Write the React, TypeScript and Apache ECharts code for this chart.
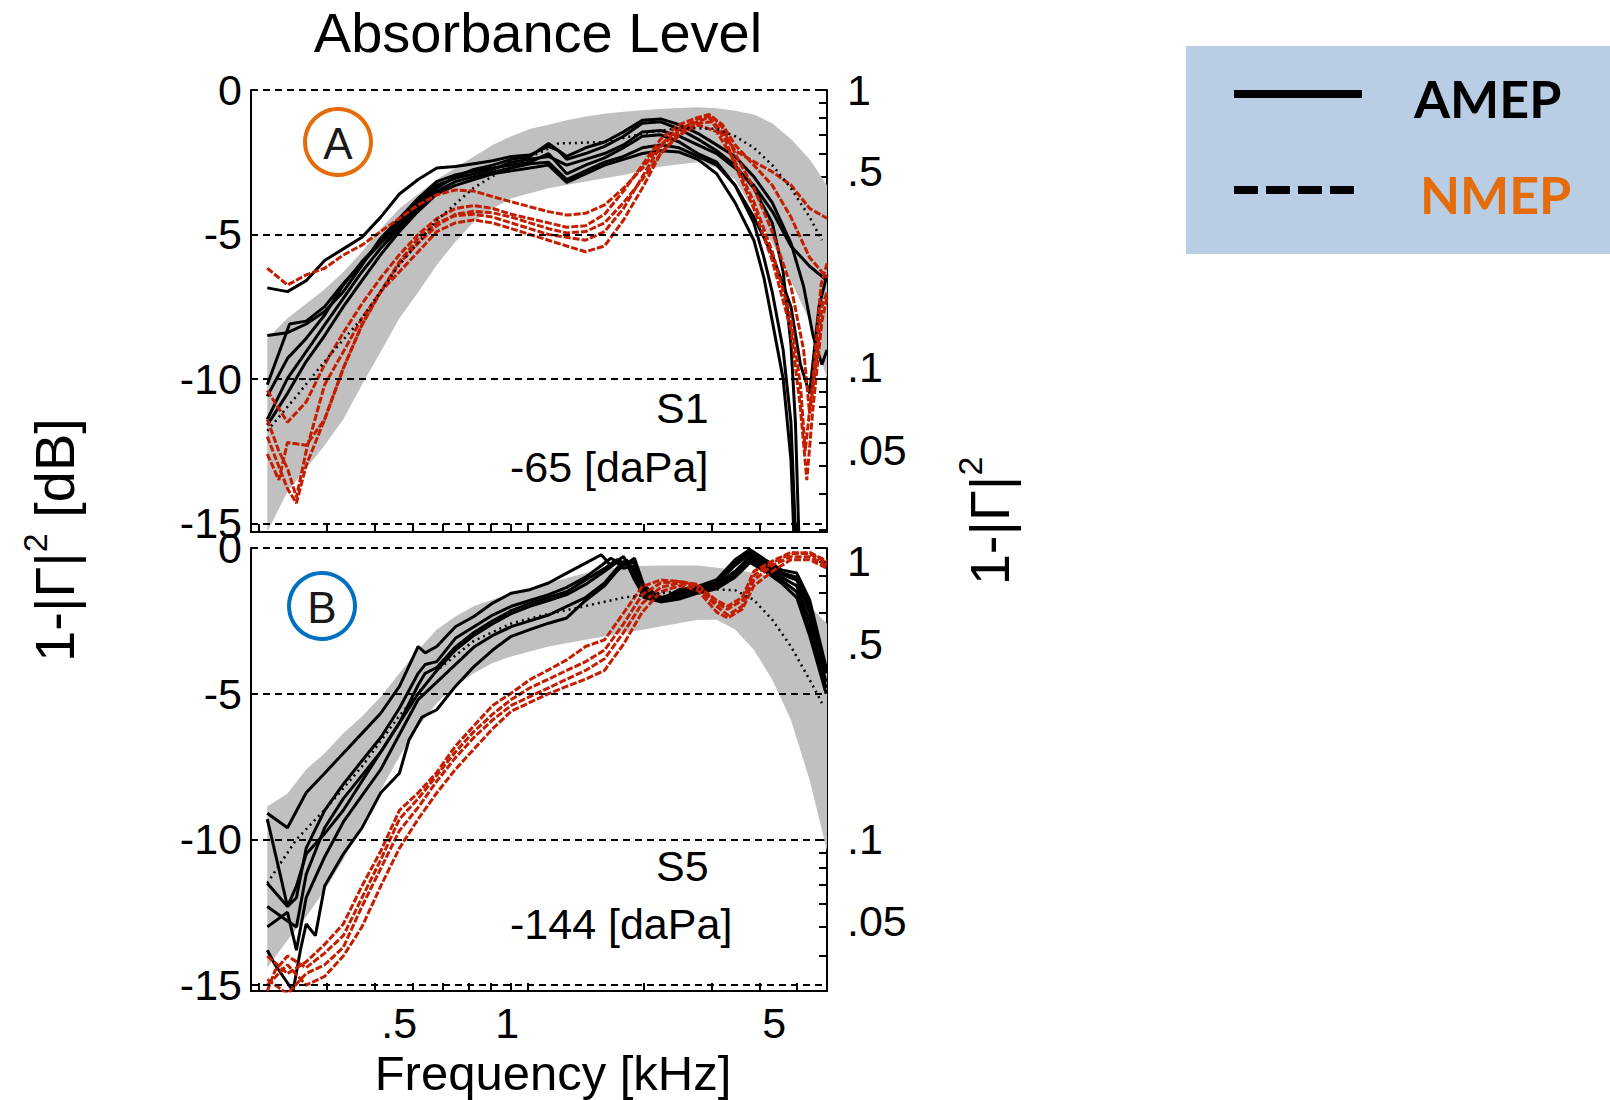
import React, { useEffect, useRef } from 'react';
import * as echarts from 'echarts';

const FONT = '"Liberation Sans", Arial, Helvetica, sans-serif';
const LEGEND_FONT = 'Lato, "Open Sans", sans-serif';

// ---------- axes ----------
const X_MIN_KHZ = 0.1905;
const X_MAX_KHZ = 5.98;
const Y_MIN_DB_A = -15.3;
const Y_MIN_DB_B = -15.2;
const X_TICK_KHZ = [0.2, 0.3, 0.4, 0.5, 0.6, 0.7, 0.8, 0.9, 1, 2, 3, 4, 5];
const X_LABEL_KHZ = [0.5, 1, 5];
const X_LABEL_TEXT = ['.5', '1', '5'];
const Y_LABEL_DB = [0, -5, -10, -15];
const GRID_DB = [0, -5, -10, -15];
const ABS_TICKS = [1, 0.9, 0.8, 0.7, 0.6, 0.5, 0.4, 0.3, 0.2, 0.1, 0.09, 0.08, 0.07, 0.06, 0.05, 0.04, 0.03];
const ABS_LABELS = [1, 0.5, 0.1, 0.05];
const ABS_LABEL_TEXT = ['1', '.5', '.1', '.05'];

// label nudges as in the original figure (pixels; style only)
const X_LABEL_SHIFT = [-13, -21, -23];
const RIGHT_LABEL_SHIFT = [[0, -6, -12, -16], [13, 8, 0, -6]];

type Pt = [number, number]; // [kHz, dB]

// ---------- Panel A (S1, -65 daPa) ----------
const A_BAND_HI: Pt[] = [[0.21,-8.6],[0.237,-7.9],[0.265,-7.4],[0.296,-6.9],[0.331,-6.3],[0.37,-5.6],[0.414,-4.8],[0.463,-4.1],[0.518,-3.6],[0.579,-3.1],[0.647,-2.7],[0.723,-2.3],[0.809,-1.9],[0.904,-1.6],[1.01,-1.35],[1.13,-1.2],[1.26,-1.05],[1.41,-0.92],[1.58,-0.82],[1.77,-0.75],[1.98,-0.7],[2.21,-0.66],[2.47,-0.62],[2.76,-0.6],[3.09,-0.63],[3.45,-0.72],[3.86,-0.85],[4.31,-1.15],[4.82,-1.7],[5.39,-2.4],[5.98,-3.3]];
const A_BAND_LO: Pt[] = [[0.21,-15.3],[0.237,-13.9],[0.265,-13.1],[0.296,-12.3],[0.331,-11.4],[0.37,-10.2],[0.414,-9.06],[0.463,-7.9],[0.518,-7.0],[0.579,-6.06],[0.647,-5.25],[0.723,-4.56],[0.809,-4.1],[0.904,-3.75],[1.13,-3.4],[1.41,-3.17],[1.77,-2.94],[2.21,-2.65],[2.76,-2.5],[3.09,-2.7],[3.45,-3.1],[3.86,-4.2],[4.31,-5.3],[4.82,-6.6],[5.39,-8.0],[5.98,-10.0]];
const A_MEAN: Pt[] = [[0.21,-11.8],[0.25,-10.6],[0.3,-9.3],[0.37,-7.9],[0.46,-6.1],[0.58,-4.5],[0.72,-3.4],[0.9,-2.6],[1.1,-2.1],[1.2,-1.85],[1.6,-1.8],[2.0,-1.5],[2.5,-1.3],[3.09,-1.35],[3.45,-1.6],[3.86,-2.0],[4.31,-2.6],[4.82,-3.4],[5.39,-4.4],[5.8,-5.2]];

const A_AMEP_1: Pt[] = [[0.21,-6.85],[0.237,-6.98],[0.265,-6.6],[0.296,-5.9],[0.331,-5.5],[0.37,-5.1],[0.414,-4.4],[0.463,-3.6],[0.518,-3.1],[0.579,-2.7],[0.647,-2.65],[0.723,-2.55],[0.809,-2.45],[0.904,-2.3],[1.01,-2.25],[1.13,-1.95],[1.2,-2.1],[1.26,-2.4],[1.41,-2.2],[1.58,-1.95],[1.77,-1.6],[1.98,-1.15],[2.21,-1.1],[2.47,-1.35],[2.76,-1.7],[3.09,-2.1],[3.45,-2.6],[3.86,-3.4],[4.31,-4.6],[4.6,-6.3],[4.82,-8.8],[4.95,-11.5],[5.05,-15.3]];
const A_AMEP_2: Pt[] = [[0.21,-8.5],[0.237,-8.4],[0.265,-8.1],[0.296,-7.67],[0.331,-6.98],[0.37,-6.06],[0.414,-5.13],[0.463,-4.44],[0.518,-3.75],[0.579,-3.17],[0.647,-2.94],[0.723,-2.8],[0.809,-2.7],[0.904,-2.6],[1.01,-2.5],[1.13,-2.2],[1.26,-2.9],[1.41,-2.6],[1.58,-2.35],[1.77,-2.0],[1.98,-1.6],[2.21,-1.55],[2.47,-1.8],[2.76,-2.2],[3.09,-2.5],[3.45,-3.3],[3.86,-4.6],[4.1,-5.8],[4.31,-7.0],[4.6,-9.0],[4.82,-11.5],[4.95,-15.3]];
const A_AMEP_3: Pt[] = [[0.21,-10.6],[0.237,-9.29],[0.265,-8.6],[0.296,-7.79],[0.331,-6.75],[0.37,-5.94],[0.414,-5.25],[0.463,-4.56],[0.518,-3.87],[0.579,-3.29],[0.647,-3.06],[0.723,-2.9],[0.809,-2.75],[0.904,-2.5],[1.01,-2.4],[1.13,-2.3],[1.26,-2.6],[1.41,-2.4],[1.58,-2.2],[1.77,-1.9],[1.98,-1.45],[2.21,-1.4],[2.47,-1.6],[2.76,-1.9],[3.09,-2.2],[3.45,-2.7],[3.86,-3.3],[4.31,-4.2],[4.82,-5.4],[5.39,-6.1],[5.98,-6.6]];
const A_AMEP_4: Pt[] = [[0.21,-11.4],[0.237,-9.98],[0.265,-9.06],[0.296,-8.13],[0.331,-7.21],[0.37,-6.29],[0.414,-5.48],[0.463,-4.79],[0.518,-4.1],[0.579,-3.52],[0.647,-3.17],[0.723,-3.0],[0.809,-2.85],[0.904,-2.7],[1.01,-2.55],[1.13,-2.5],[1.26,-3.1],[1.41,-2.8],[1.58,-2.5],[1.77,-2.3],[1.98,-2.0],[2.21,-1.9],[2.47,-2.0],[2.76,-2.3],[3.09,-2.6],[3.45,-3.3],[3.86,-4.4],[4.31,-5.7],[4.82,-7.5],[5.1,-9.5],[5.39,-10.5],[5.7,-7.5],[5.98,-6.4]];
const A_AMEP_5: Pt[] = [[0.21,-10.2],[0.24,-8.1],[0.265,-8.0],[0.296,-7.5],[0.331,-6.7],[0.37,-6.0],[0.414,-5.3],[0.463,-4.7],[0.518,-4.0],[0.579,-3.4],[0.647,-3.0],[0.723,-2.75],[0.809,-2.6],[0.904,-2.4],[1.01,-2.3],[1.13,-1.85],[1.26,-2.3],[1.41,-2.0],[1.58,-1.8],[1.77,-1.45],[1.98,-1.05],[2.21,-1.0],[2.47,-1.2],[2.76,-1.5],[3.09,-1.9],[3.45,-2.3],[3.86,-3.0],[4.31,-3.9],[4.82,-5.3],[5.2,-6.8],[5.5,-8.5],[5.8,-9.5],[5.98,-9.0]];
const A_AMEP_6: Pt[] = [[0.21,-11.6],[0.237,-10.5],[0.265,-9.4],[0.296,-8.5],[0.331,-7.5],[0.37,-6.6],[0.414,-5.7],[0.463,-4.9],[0.518,-4.2],[0.579,-3.6],[0.647,-3.3],[0.723,-3.1],[0.809,-2.9],[0.904,-2.8],[1.01,-2.7],[1.13,-2.6],[1.26,-3.2],[1.41,-2.9],[1.58,-2.6],[1.77,-2.4],[1.98,-2.2],[2.21,-2.1],[2.47,-2.15],[2.76,-2.4],[3.09,-2.9],[3.45,-3.9],[3.86,-5.2],[4.1,-6.5],[4.31,-8.0],[4.6,-10.0],[4.82,-12.8],[4.9,-15.3]];

const A_NMEP_1: Pt[] = [[0.21,-6.17],[0.237,-6.75],[0.265,-6.4],[0.296,-6.17],[0.331,-5.71],[0.37,-5.37],[0.414,-4.9],[0.463,-4.44],[0.518,-3.98],[0.579,-3.63],[0.647,-3.46],[0.723,-3.5],[0.809,-3.69],[0.904,-3.87],[1.01,-4.04],[1.13,-4.21],[1.26,-4.33],[1.41,-4.27],[1.58,-3.98],[1.77,-3.4],[1.98,-2.71],[2.21,-1.9],[2.47,-1.33],[2.76,-1.1],[2.95,-0.95],[3.25,-1.56],[3.45,-2.1],[3.86,-2.48],[4.31,-2.83],[4.82,-3.29],[5.39,-4.1],[5.98,-4.44]];
const A_NMEP_2: Pt[] = [[0.21,-11.4],[0.225,-12.5],[0.237,-13.1],[0.25,-14.1],[0.265,-12.5],[0.296,-10.2],[0.331,-9.06],[0.37,-7.9],[0.414,-6.98],[0.463,-6.29],[0.518,-5.6],[0.579,-4.9],[0.647,-4.6],[0.723,-4.5],[0.809,-4.6],[0.904,-4.8],[1.01,-5.0],[1.13,-5.2],[1.26,-5.4],[1.41,-5.6],[1.58,-5.4],[1.77,-4.5],[1.98,-3.4],[2.21,-2.2],[2.47,-1.56],[2.76,-1.21],[3.09,-1.44],[3.45,-2.48],[3.86,-3.87],[4.31,-5.6],[4.82,-7.9],[5.1,-10.2],[5.25,-12.5],[5.5,-10.0],[5.77,-6.75],[5.98,-6.0]];
const A_NMEP_3: Pt[] = [[0.21,-12.0],[0.237,-13.8],[0.25,-14.3],[0.265,-13.0],[0.296,-11.4],[0.331,-9.63],[0.37,-8.13],[0.414,-6.98],[0.463,-5.94],[0.518,-5.13],[0.579,-4.6],[0.647,-4.35],[0.723,-4.3],[0.809,-4.4],[0.904,-4.6],[1.01,-4.8],[1.13,-5.0],[1.26,-5.1],[1.41,-5.2],[1.58,-4.9],[1.77,-4.1],[1.98,-3.0],[2.21,-1.95],[2.47,-1.4],[2.76,-1.0],[3.0,-0.9],[3.2,-1.3],[3.45,-2.2],[3.86,-3.4],[4.31,-4.9],[4.82,-6.8],[5.2,-9.0],[5.39,-11.2],[5.6,-9.5],[5.8,-7.5],[5.98,-7.0]];
const A_NMEP_4: Pt[] = [[0.21,-12.6],[0.225,-13.5],[0.237,-12.2],[0.265,-12.3],[0.296,-11.4],[0.331,-9.63],[0.37,-8.13],[0.414,-6.98],[0.463,-6.0],[0.518,-5.3],[0.579,-4.7],[0.647,-4.3],[0.723,-4.2],[0.809,-4.25],[0.904,-4.4],[1.01,-4.6],[1.13,-4.8],[1.26,-4.95],[1.41,-4.9],[1.58,-4.6],[1.77,-3.9],[1.98,-3.1],[2.21,-2.2],[2.47,-1.5],[2.76,-1.15],[3.0,-1.1],[3.25,-1.7],[3.45,-2.6],[3.86,-4.1],[4.31,-5.9],[4.82,-8.3],[5.1,-11.0],[5.3,-13.5],[5.5,-11.0],[5.8,-8.0],[5.98,-7.2]];
const A_NMEP_5: Pt[] = [[0.21,-10.4],[0.237,-11.5],[0.265,-10.8],[0.296,-9.5],[0.331,-8.4],[0.37,-7.4],[0.414,-6.5],[0.463,-5.7],[0.518,-5.0],[0.579,-4.45],[0.647,-4.1],[0.723,-4.0],[0.809,-4.1],[0.904,-4.3],[1.01,-4.45],[1.13,-4.6],[1.26,-4.75],[1.41,-4.7],[1.58,-4.3],[1.77,-3.5],[1.98,-2.6],[2.21,-1.7],[2.47,-1.2],[2.76,-0.95],[2.95,-0.85],[3.2,-1.2],[3.45,-1.9],[3.86,-2.6],[4.31,-3.3],[4.82,-4.4],[5.39,-5.8],[5.98,-6.5]];

// ---------- Panel B (S5, -144 daPa) ----------
const B_BAND_HI: Pt[] = [[0.21,-8.87],[0.237,-8.42],[0.265,-7.6],[0.296,-7.04],[0.331,-6.36],[0.37,-5.78],[0.414,-5.1],[0.463,-4.3],[0.518,-3.5],[0.579,-2.8],[0.647,-2.35],[0.723,-2.0],[0.904,-1.55],[1.13,-1.2],[1.41,-0.86],[1.77,-0.63],[2.21,-0.6],[2.76,-0.6],[3.45,-0.75],[4.31,-0.97],[4.82,-1.32],[5.39,-2.0],[5.98,-2.6]];
const B_BAND_LO: Pt[] = [[0.21,-14.4],[0.237,-13.46],[0.265,-12.65],[0.296,-11.74],[0.331,-10.7],[0.37,-9.45],[0.414,-8.3],[0.463,-7.16],[0.518,-6.13],[0.579,-5.32],[0.647,-4.75],[0.723,-4.3],[0.809,-3.95],[0.904,-3.72],[1.13,-3.38],[1.41,-3.15],[1.77,-2.92],[2.21,-2.69],[2.76,-2.46],[3.09,-2.46],[3.45,-2.8],[3.86,-3.49],[4.31,-4.52],[4.82,-5.9],[5.39,-7.96],[5.98,-10.4]];
const B_MEAN: Pt[] = [[0.21,-11.5],[0.25,-10.0],[0.3,-8.9],[0.37,-7.5],[0.46,-5.8],[0.58,-4.2],[0.72,-3.2],[0.9,-2.6],[1.1,-2.3],[1.4,-2.0],[1.77,-1.7],[2.21,-1.55],[2.76,-1.4],[3.45,-1.45],[3.86,-1.78],[4.31,-2.46],[4.82,-3.38],[5.39,-4.52],[5.8,-5.32]];

const B_AMEP_1: Pt[] = [[0.21,-9.1],[0.237,-9.6],[0.265,-8.4],[0.296,-7.73],[0.331,-7.04],[0.37,-6.36],[0.414,-5.67],[0.463,-4.75],[0.518,-3.38],[0.54,-3.6],[0.579,-3.38],[0.647,-2.7],[0.723,-2.35],[0.809,-1.89],[0.904,-1.55],[1.01,-1.43],[1.13,-1.2],[1.26,-0.86],[1.41,-0.52],[1.55,-0.23],[1.64,-0.6],[1.77,-0.29],[1.89,-1.09],[2.0,-1.66],[2.21,-1.78],[2.47,-1.43],[2.76,-1.32],[3.09,-1.09],[3.45,-0.4],[3.77,-0.05],[4.13,-0.4],[4.55,-0.75],[4.99,-0.86],[5.39,-1.78],[5.95,-4.1]];
const B_AMEP_2: Pt[] = [[0.21,-11.5],[0.237,-12.3],[0.25,-12.0],[0.265,-10.3],[0.296,-9.0],[0.331,-8.1],[0.37,-7.3],[0.414,-6.5],[0.463,-5.5],[0.518,-4.3],[0.54,-4.0],[0.579,-3.9],[0.647,-3.1],[0.723,-2.7],[0.809,-2.3],[0.904,-2.0],[1.01,-1.8],[1.13,-1.6],[1.26,-1.35],[1.41,-1.0],[1.55,-0.6],[1.64,-0.35],[1.77,-0.6],[1.89,-0.35],[2.0,-1.3],[2.21,-1.7],[2.47,-1.55],[2.76,-1.4],[3.09,-1.2],[3.45,-0.6],[3.77,-0.2],[4.13,-0.5],[4.55,-0.9],[4.99,-1.1],[5.39,-2.2],[5.95,-4.3]];
const B_AMEP_3: Pt[] = [[0.21,-12.3],[0.237,-12.8],[0.25,-13.0],[0.265,-11.2],[0.296,-9.6],[0.331,-8.6],[0.37,-7.8],[0.414,-7.0],[0.463,-6.0],[0.518,-5.0],[0.579,-4.2],[0.647,-3.5],[0.723,-3.0],[0.809,-2.6],[0.904,-2.25],[1.01,-2.0],[1.13,-1.8],[1.26,-1.6],[1.41,-1.25],[1.58,-0.8],[1.7,-0.5],[1.77,-0.7],[1.89,-0.6],[2.0,-1.5],[2.21,-1.8],[2.47,-1.6],[2.76,-1.45],[3.09,-1.25],[3.45,-0.8],[3.77,-0.3],[4.13,-0.6],[4.55,-1.0],[4.99,-1.3],[5.39,-2.5],[5.95,-4.6]];
const B_AMEP_4: Pt[] = [[0.21,-13.0],[0.237,-12.5],[0.25,-13.8],[0.265,-12.0],[0.296,-10.6],[0.331,-9.4],[0.37,-8.5],[0.414,-7.6],[0.463,-6.4],[0.518,-5.2],[0.579,-4.6],[0.647,-4.0],[0.723,-3.4],[0.809,-3.0],[0.904,-2.7],[1.01,-2.5],[1.13,-2.3],[1.26,-2.0],[1.41,-1.7],[1.58,-1.2],[1.7,-0.7],[1.8,-0.4],[1.89,-0.8],[2.0,-1.6],[2.21,-1.75],[2.47,-1.7],[2.76,-1.5],[3.09,-1.3],[3.45,-0.9],[3.77,-0.4],[4.13,-0.7],[4.55,-1.1],[4.99,-1.5],[5.39,-2.8],[5.95,-4.8]];
const B_AMEP_5: Pt[] = [[0.21,-13.8],[0.22,-14.3],[0.245,-15.2],[0.256,-13.8],[0.265,-12.9],[0.28,-13.3],[0.296,-11.6],[0.331,-10.5],[0.37,-9.6],[0.414,-8.4],[0.463,-7.73],[0.49,-6.6],[0.53,-5.8],[0.579,-5.55],[0.647,-4.75],[0.723,-4.07],[0.809,-3.5],[0.904,-3.03],[1.01,-2.8],[1.13,-2.58],[1.26,-2.4],[1.41,-1.8],[1.58,-1.3],[1.7,-0.8],[1.8,-0.5],[1.89,-1.0],[2.0,-1.7],[2.21,-1.85],[2.47,-1.75],[2.76,-1.55],[3.09,-1.4],[3.45,-1.0],[3.77,-0.5],[4.13,-0.8],[4.55,-1.2],[4.99,-1.7],[5.39,-3.0],[5.95,-5.0]];
const B_AMEP_6: Pt[] = [[0.21,-9.3],[0.225,-11.0],[0.237,-12.3],[0.25,-11.6],[0.265,-10.5],[0.296,-9.8],[0.331,-9.0],[0.37,-8.0],[0.414,-7.0],[0.463,-6.0],[0.518,-4.7],[0.54,-4.3],[0.579,-4.1],[0.647,-3.4],[0.723,-2.9],[0.809,-2.5],[0.904,-2.15],[1.01,-1.9],[1.13,-1.7],[1.26,-1.5],[1.41,-1.1],[1.58,-0.7],[1.7,-0.4],[1.77,-0.5],[1.89,-0.5],[2.0,-1.4],[2.21,-1.75],[2.47,-1.5],[2.76,-1.35],[3.09,-1.15],[3.45,-0.5],[3.77,-0.1],[4.13,-0.45],[4.55,-0.85],[4.99,-1.0],[5.39,-2.0],[5.95,-4.2]];

const B_NMEP_1: Pt[] = [[0.21,-14.0],[0.237,-14.6],[0.265,-14.2],[0.296,-13.6],[0.331,-12.9],[0.37,-11.6],[0.414,-10.4],[0.463,-9.0],[0.518,-8.4],[0.579,-7.7],[0.647,-6.8],[0.723,-6.1],[0.809,-5.4],[0.904,-4.98],[1.01,-4.52],[1.13,-4.18],[1.26,-3.84],[1.41,-3.38],[1.58,-3.15],[1.77,-2.23],[1.98,-1.32],[2.21,-1.1],[2.47,-1.15],[2.76,-1.3],[3.09,-1.8],[3.3,-2.0],[3.6,-1.7],[3.86,-0.8],[4.31,-0.45],[4.82,-0.15],[5.39,-0.2],[5.98,-0.5]];
const B_NMEP_2: Pt[] = [[0.21,-14.8],[0.237,-15.3],[0.265,-14.6],[0.296,-14.3],[0.331,-13.7],[0.37,-12.3],[0.414,-11.0],[0.463,-9.7],[0.518,-8.9],[0.579,-8.0],[0.647,-7.2],[0.723,-6.5],[0.809,-5.9],[0.904,-5.4],[1.01,-5.1],[1.13,-4.8],[1.26,-4.5],[1.41,-4.2],[1.58,-3.8],[1.77,-2.9],[1.98,-1.9],[2.21,-1.35],[2.47,-1.2],[2.76,-1.35],[3.09,-2.0],[3.3,-2.3],[3.6,-2.0],[3.86,-1.1],[4.31,-0.6],[4.82,-0.3],[5.39,-0.3],[5.98,-0.6]];
const B_NMEP_3: Pt[] = [[0.21,-15.0],[0.237,-14.3],[0.265,-15.0],[0.296,-14.7],[0.331,-14.0],[0.37,-13.0],[0.414,-11.6],[0.463,-10.3],[0.518,-9.3],[0.579,-8.4],[0.647,-7.6],[0.723,-6.9],[0.809,-6.2],[0.904,-5.6],[1.01,-5.3],[1.13,-5.0],[1.26,-4.75],[1.41,-4.5],[1.58,-4.2],[1.77,-3.3],[1.98,-2.2],[2.21,-1.5],[2.47,-1.3],[2.76,-1.45],[3.09,-2.2],[3.3,-2.4],[3.6,-2.1],[3.86,-1.3],[4.31,-0.8],[4.82,-0.4],[5.39,-0.4],[5.98,-0.7]];
const B_NMEP_4: Pt[] = [[0.21,-15.2],[0.22,-14.5],[0.237,-14.0],[0.265,-14.4],[0.296,-13.9],[0.331,-13.3],[0.37,-12.0],[0.414,-10.7],[0.463,-9.3],[0.518,-8.6],[0.579,-7.8],[0.647,-7.0],[0.723,-6.3],[0.809,-5.7],[0.904,-5.2],[1.01,-4.8],[1.13,-4.5],[1.26,-4.2],[1.41,-3.9],[1.58,-3.5],[1.77,-2.6],[1.98,-1.6],[2.21,-1.2],[2.47,-1.15],[2.76,-1.25],[3.09,-1.9],[3.3,-2.1],[3.6,-1.8],[3.86,-0.95],[4.31,-0.5],[4.82,-0.2],[5.39,-0.15],[5.98,-0.45]];

const A_AMEP = [A_AMEP_1, A_AMEP_2, A_AMEP_3, A_AMEP_4, A_AMEP_5, A_AMEP_6];
const A_NMEP = [A_NMEP_1, A_NMEP_2, A_NMEP_3, A_NMEP_4, A_NMEP_5];
const B_AMEP = [B_AMEP_1, B_AMEP_2, B_AMEP_3, B_AMEP_4, B_AMEP_5, B_AMEP_6];
const B_NMEP = [B_NMEP_1, B_NMEP_2, B_NMEP_3, B_NMEP_4];

// ---------- styling ----------
const GRAY = '#C0C0C0';
const RED = '#C41E00';
const ORANGE = '#E46C0A';
const BLUE = '#0070C0';
const LEGEND_BG = '#B9CDE5';

const lg = (f: number) => Math.log10(f);
const toXY = (pts: Pt[]) => pts.map(([f, d]) => [lg(f), d]);
const absToDb = (a: number) => 10 * Math.log10(a);

function nearestIndex(values: number[], v: number) {
  let best = 0;
  values.forEach((x, i) => {
    if (Math.abs(x - v) < Math.abs(values[best] - v)) best = i;
  });
  return best;
}

function bandSeries(gi: number, hi: Pt[], lo: Pt[]) {
  return {
    type: 'custom',
    xAxisIndex: gi,
    yAxisIndex: gi * 2,
    z: 1,
    silent: true,
    clip: true,
    data: [[0, -5]],
    renderItem: (_params: any, api: any) => {
      const pts: number[][] = [];
      hi.forEach(([f, d]) => pts.push(api.coord([lg(f), d])));
      for (let i = lo.length - 1; i >= 0; i--) pts.push(api.coord([lg(lo[i][0]), lo[i][1]]));
      return { type: 'polygon', shape: { points: pts }, style: { fill: GRAY, stroke: null } };
    },
  };
}

function lineSeries(gi: number, pts: Pt[], color: string, type: any, width: number, z: number, extra: any = {}) {
  return {
    type: 'line',
    xAxisIndex: gi,
    yAxisIndex: gi * 2,
    data: toXY(pts),
    symbol: 'none',
    showSymbol: false,
    silent: true,
    clip: true,
    z,
    lineStyle: { color, width, type },
    ...extra,
  };
}

function gridMarkLine() {
  return {
    silent: true,
    symbol: ['none', 'none'],
    label: { show: false },
    lineStyle: { color: '#000', width: 2, type: [7, 5] },
    data: GRID_DB.map((v) => ({ yAxis: v })),
  };
}

function buildOption() {
  const grids = [
    { left: 251, top: 90, width: 576, height: 442 },
    { left: 251, top: 548, width: 576, height: 443 },
  ];
  const yMins = [Y_MIN_DB_A, Y_MIN_DB_B];

  const xRich: any = {};
  X_LABEL_SHIFT.forEach((s, i) => {
    xRich['x' + i] = { fontSize: 43, fontFamily: FONT, color: '#000', padding: [0, -2 * s, 0, 0] };
  });

  const xAxis = [0, 1].map((gi) => ({
    type: 'value',
    gridIndex: gi,
    min: lg(X_MIN_KHZ),
    max: lg(X_MAX_KHZ),
    position: 'bottom',
    splitLine: { show: false },
    axisLine: { show: true, onZero: false, lineStyle: { color: '#000', width: 2 } },
    axisTick: {
      show: true,
      inside: true,
      length: 8,
      customValues: X_TICK_KHZ.map(lg),
      lineStyle: { color: '#000', width: 2 },
    },
    axisLabel:
      gi === 1
        ? {
            show: true,
            customValues: X_LABEL_KHZ.map(lg),
            formatter: (v: number) => {
              const i = nearestIndex(X_LABEL_KHZ.map(lg), v);
              return '{x' + i + '|' + X_LABEL_TEXT[i] + '}';
            },
            rich: xRich,
            fontSize: 43,
            fontFamily: FONT,
            color: '#000',
            margin: 10,
          }
        : { show: false },
  }));

  const yAxis: any[] = [];
  [0, 1].forEach((gi) => {
    const rRich: any = {};
    RIGHT_LABEL_SHIFT[gi].forEach((s, i) => {
      rRich['r' + i] = {
        fontSize: 43,
        fontFamily: FONT,
        color: '#000',
        padding: s < 0 ? [0, 0, -2 * s, 0] : [2 * s, 0, 0, 0],
      };
    });
    yAxis.push({
      type: 'value',
      gridIndex: gi,
      position: 'left',
      min: yMins[gi],
      max: 0,
      splitLine: { show: false },
      axisLine: { show: true, onZero: false, lineStyle: { color: '#000', width: 2 } },
      axisTick: { show: false },
      axisLabel: {
        customValues: Y_LABEL_DB,
        formatter: (v: number) => String(Math.round(v)),
        fontSize: 43,
        fontFamily: FONT,
        color: '#000',
        margin: 9,
      },
    });
    yAxis.push({
      type: 'value',
      gridIndex: gi,
      position: 'right',
      min: yMins[gi],
      max: 0,
      splitLine: { show: false },
      axisLine: { show: true, onZero: false, lineStyle: { color: '#000', width: 2 } },
      axisTick: {
        show: true,
        inside: true,
        length: 8,
        customValues: ABS_TICKS.map(absToDb).filter((d) => d >= yMins[gi]),
        lineStyle: { color: '#000', width: 2 },
      },
      axisLabel: {
        customValues: ABS_LABELS.map(absToDb),
        formatter: (v: number) => {
          const i = nearestIndex(ABS_LABELS.map(absToDb), v);
          return '{r' + i + '|' + ABS_LABEL_TEXT[i] + '}';
        },
        rich: rRich,
        fontSize: 43,
        fontFamily: FONT,
        color: '#000',
        margin: 20,
      },
    });
  });

  const series: any[] = [];
  const panels = [
    { band: [A_BAND_HI, A_BAND_LO], mean: A_MEAN, amep: A_AMEP, nmep: A_NMEP },
    { band: [B_BAND_HI, B_BAND_LO], mean: B_MEAN, amep: B_AMEP, nmep: B_NMEP },
  ];
  panels.forEach((p, gi) => {
    series.push(bandSeries(gi, p.band[0], p.band[1]));
    p.amep.forEach((pts) => series.push(lineSeries(gi, pts, '#000', 'solid', 3, 2)));
    p.nmep.forEach((pts) => series.push(lineSeries(gi, pts, RED, [7, 2], 3, 3)));
    series.push(lineSeries(gi, p.mean, '#000', [2, 4], 2.5, 4, { markLine: gridMarkLine() }));
  });

  const text = (x: number, y: number, t: string, size: number, extra: any = {}) => ({
    type: 'text',
    x,
    y,
    z: 100,
    style: {
      text: t,
      fontSize: size,
      fontFamily: FONT,
      fill: '#000',
      align: 'center',
      verticalAlign: 'middle',
      ...extra,
    },
  });

  const titleRich = {
    a: { fontSize: 56, fontFamily: FONT, fill: '#000', lineHeight: 64, verticalAlign: 'bottom' },
    s: { fontSize: 34, fontFamily: FONT, fill: '#000', lineHeight: 64, verticalAlign: 'top' },
  };

  const graphic: any[] = [
    text(538, 32, 'Absorbance Level', 56),
    text(553, 1073, 'Frequency [kHz]', 49),
    {
      type: 'text',
      x: 50,
      y: 540,
      rotation: Math.PI / 2,
      style: { text: '{a|1-|Γ|}{s|2}{a| [dB]}', align: 'center', verticalAlign: 'middle', rich: titleRich },
    },
    {
      type: 'text',
      x: 985,
      y: 521,
      rotation: Math.PI / 2,
      style: { text: '{a|1-|Γ|}{s|2}', align: 'center', verticalAlign: 'middle', rich: titleRich },
    },
    // panel annotations
    { type: 'circle', shape: { cx: 338, cy: 142, r: 33 }, style: { fill: 'none', stroke: ORANGE, lineWidth: 4 }, z: 100 },
    text(338, 143, 'A', 44, { fill: '#1a1a1a' }),
    { type: 'circle', shape: { cx: 322, cy: 606, r: 33 }, style: { fill: 'none', stroke: BLUE, lineWidth: 4 }, z: 100 },
    text(322, 607, 'B', 44, { fill: '#1a1a1a' }),
    text(656, 408, 'S1', 43, { align: 'left' }),
    text(510, 467, '-65 [daPa]', 43, { align: 'left' }),
    text(656, 866, 'S5', 43, { align: 'left' }),
    text(510, 924, '-144 [daPa]', 43, { align: 'left' }),
    // legend box
    { type: 'rect', shape: { x: 1186, y: 46, width: 424, height: 208 }, style: { fill: LEGEND_BG }, z: 90 },
    { type: 'line', shape: { x1: 1234, y1: 94, x2: 1362, y2: 94 }, style: { stroke: '#000', lineWidth: 8 }, z: 100 },
    { type: 'line', shape: { x1: 1234, y1: 190, x2: 1356, y2: 190 }, style: { stroke: '#000', lineWidth: 8, lineDash: [24, 8] }, z: 100 },
    text(1414, 98, 'AMEP', 52, { align: 'left', fontFamily: LEGEND_FONT, fontWeight: 'bold' }),
    text(1420, 194, 'NMEP', 52, { align: 'left', fontFamily: LEGEND_FONT, fontWeight: 'bold', fill: ORANGE }),
  ];

  return {
    animation: false,
    backgroundColor: '#fff',
    textStyle: { fontFamily: FONT },
    grid: grids,
    xAxis,
    yAxis,
    series,
    graphic,
  };
}

export default function App() {
  const ref = useRef<HTMLDivElement>(null);
  useEffect(() => {
    const chart = echarts.init(ref.current as HTMLDivElement, null, { renderer: 'svg' });
    chart.setOption(buildOption() as any);
    return () => chart.dispose();
  }, []);
  return (
    <div
      ref={ref}
      style={{ position: 'fixed', left: 0, top: 0, width: 1610, height: 1100, background: '#fff' }}
    />
  );
}
